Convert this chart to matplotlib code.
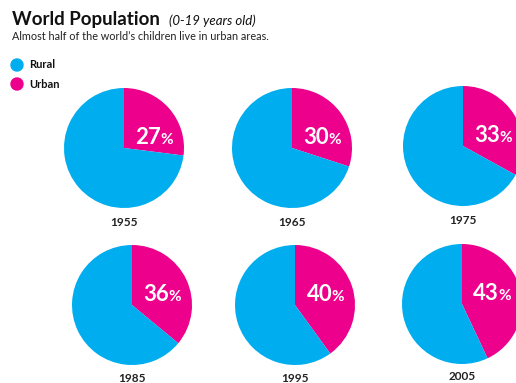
import matplotlib
matplotlib.use("Agg")
from matplotlib import pyplot as plt
from matplotlib.patches import Circle

plt.rcParams['font.family'] = ['Lato', 'DejaVu Sans']

years = ['1955', '1965', '1975', '1985', '1995', '2005']
urban = [27, 30, 33, 36, 40, 43]
rural = [100 - u for u in urban]

RURAL_C = '#00AEEF'
URBAN_C = '#EC008C'

W, H = 516, 383
fig = plt.figure(figsize=(W / 100, H / 100), dpi=100)

# pie centres in pixels (from top-left)
centres = [(124, 148), (292, 148), (463, 146), (132, 305), (295, 305), (462, 304)]
radius = 60
label_gap = [75, 75, 75, 73, 73, 73]


def px(x, y):
	return x / W, 1 - y / H


for yr, u, r, (cx, cy), gap in zip(years, urban, rural, centres, label_gap):
	ax = fig.add_axes([(cx - radius) / W, 1 - (cy + radius) / H, 2 * radius / W, 2 * radius / H])
	ax.pie([u, r], colors=[URBAN_C, RURAL_C], startangle=90, counterclock=False,
		   radius=1.0, wedgeprops=dict(linewidth=0))
	ax.set_xlim(-1, 1)
	ax.set_ylim(-1, 1)
	ax.set_aspect('equal')
	ax.axis('off')
	ax.text(0.62, 0.06, str(u), color='white', fontsize=16, fontweight='bold',
			ha='right', va='baseline')
	ax.text(0.6, 0.06, '%', color='white', fontsize=11, fontweight='bold',
			ha='left', va='baseline')
	lx, ly = px(cx, cy + gap)
	fig.text(lx, ly, yr, fontsize=8.5, fontweight='bold', ha='center', va='center', color='#222222')

# title block
x0, y0 = px(12, 25)
fig.text(x0, y0, 'World Population', fontsize=13.5, fontweight='bold', color='#111111', va='baseline')
x1, _ = px(169, 25)
fig.text(x1, y0, '(0-19 years old)', fontsize=9.5, style='italic', color='#111111', va='baseline')
x2, y2 = px(12, 40)
fig.text(x2, y2, "Almost half of the world\u2019s children live in urban areas.", fontsize=7.8,
		 color='#222222', va='baseline')

# legend
for label, col, yy in [('Rural', RURAL_C, 65), ('Urban', URBAN_C, 84)]:
	fig.patches.append(Circle((17, H - yy), 6, transform=None, color=col, figure=fig))
	tx, ty = px(29, yy)
	fig.text(tx, ty, label, fontsize=8, fontweight='bold', va='center', color='#111111')

fig.savefig('out.png', dpi=100)
